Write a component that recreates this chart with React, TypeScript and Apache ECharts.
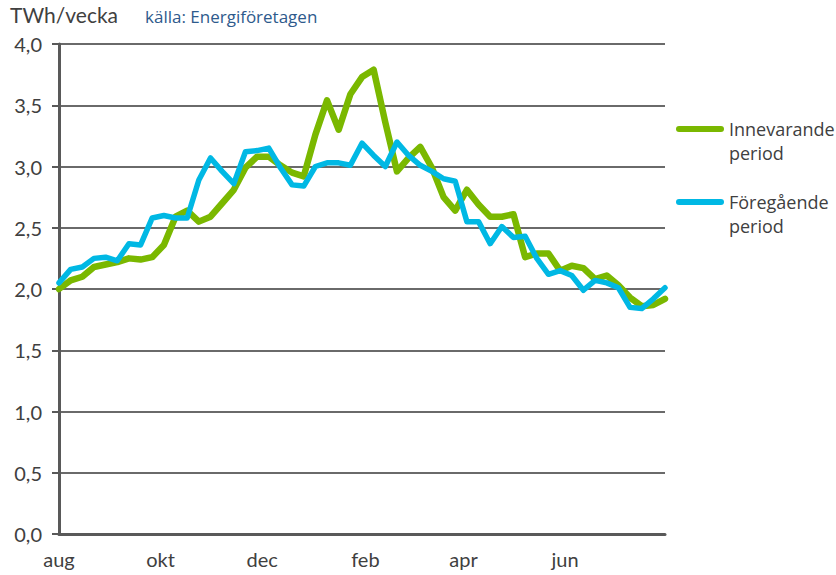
import React, { useEffect, useRef } from "react";
import * as echarts from "echarts";

// week index 0..52 (weekly points from early August)
const weekIndex = [
  0, 1, 2, 3, 4, 5, 6, 7, 8, 9, 10, 11, 12, 13, 14, 15, 16, 17, 18, 19, 20, 21, 22, 23, 24, 25, 26,
  27, 28, 29, 30, 31, 32, 33, 34, 35, 36, 37, 38, 39, 40, 41, 42, 43, 44, 45, 46, 47, 48, 49, 50, 51, 52,
];

const innevarande = [
  2.0, 2.07, 2.1, 2.18, 2.2, 2.22, 2.25, 2.24, 2.26, 2.36, 2.59, 2.64, 2.55, 2.59, 2.7, 2.81, 2.99,
  3.08, 3.08, 3.01, 2.95, 2.92, 3.26, 3.54, 3.3, 3.59, 3.73, 3.79, 3.36, 2.96, 3.07, 3.16, 2.99, 2.75,
  2.64, 2.81, 2.69, 2.59, 2.59, 2.61, 2.26, 2.29, 2.29, 2.15, 2.19, 2.17, 2.08, 2.11, 2.03, 1.93, 1.86,
  1.87, 1.92,
];

const foregaende = [
  2.05, 2.16, 2.18, 2.25, 2.26, 2.23, 2.37, 2.36, 2.58, 2.6, 2.58, 2.58, 2.89, 3.07, 2.96, 2.86, 3.12,
  3.13, 3.15, 2.99, 2.85, 2.84, 3.0, 3.03, 3.03, 3.01, 3.19, 3.09, 3.0, 3.2, 3.09, 3.01, 2.96, 2.9,
  2.88, 2.55, 2.55, 2.37, 2.51, 2.42, 2.43, 2.25, 2.12, 2.15, 2.11, 1.99, 2.07, 2.05, 2.01, 1.85, 1.84,
  1.92, 2.01,
];

const monthLabels = ["aug", "okt", "dec", "feb", "apr", "jun"];
// month starts, in weeks from 1 August
const monthPositions = [0, 8.71, 17.43, 26.29, 34.71, 43.43];

const seriesNames = ["Innevarande period", "Föregående period"];
const seriesColors = ["#7AB800", "#00B8E4"];

const legendIcon = "path://M3,0 L45,0 A3,3 0 0 1 45,6 L3,6 A3,3 0 0 1 3,0 Z";

export default function App() {
  const ref = useRef<HTMLDivElement>(null);
  useEffect(() => {
    if (!ref.current) return;
    const chart = echarts.init(ref.current, undefined, { renderer: "svg" });
    const axisColor = "#595959";
    const labelStyle = { fontFamily: "Lato", fontSize: 20, color: "#404040" };
    const legendText = {
      fontFamily: "Open Sans",
      fontSize: 18,
      color: "#404040",
      lineHeight: 24,
    };
    // an empty first line keeps the icon level with the first text line
    const legendFormatter = (n: string) => "\n" + n.replace(" ", "\n");
    chart.setOption({
      animation: false,
      backgroundColor: "#ffffff",
      title: [
        {
          text: "TWh/vecka",
          left: 10,
          top: 4,
          padding: 0,
          textStyle: { fontFamily: "Lato", fontSize: 21, fontWeight: "normal", color: "#404040" },
        },
        {
          text: "källa: Energiföretagen",
          left: 145,
          top: 8,
          padding: 0,
          textStyle: { fontFamily: "Open Sans", fontSize: 17, fontWeight: "normal", color: "#2E5A8C" },
        },
      ],
      legend: [
        {
          data: [seriesNames[0]],
          left: 676,
          top: 93,
          padding: 0,
          itemWidth: 48,
          itemHeight: 7,
          icon: legendIcon,
          formatter: legendFormatter,
          textStyle: legendText,
        },
        {
          data: [seriesNames[1]],
          left: 676,
          top: 166,
          padding: 0,
          itemWidth: 48,
          itemHeight: 7,
          icon: legendIcon,
          formatter: legendFormatter,
          textStyle: legendText,
        },
      ],
      grid: { left: 59, right: 171, top: 44, bottom: 41, outerBoundsMode: "none" },
      xAxis: {
        type: "value",
        min: 0,
        max: 52,
        axisLine: { show: true, lineStyle: { color: axisColor, width: 3 } },
        axisTick: { show: false },
        splitLine: { show: false },
        axisLabel: {
          ...labelStyle,
          margin: 15,
          customValues: monthPositions,
          formatter: (v: number) => {
            const i = monthPositions.findIndex((p) => Math.abs(p - v) < 1e-6);
            return i >= 0 ? monthLabels[i] : "";
          },
        },
      },
      yAxis: {
        type: "value",
        min: 0,
        max: 4,
        interval: 0.5,
        axisLine: { show: true, lineStyle: { color: axisColor, width: 3 } },
        axisTick: { show: true, length: 7, lineStyle: { color: axisColor, width: 2 } },
        splitLine: { show: true, lineStyle: { color: "#6A6A6A", width: 2 } },
        axisLabel: {
          ...labelStyle,
          margin: 17,
          formatter: (v: number) => v.toFixed(1).replace(".", ","),
        },
      },
      series: [
        {
          name: seriesNames[0],
          type: "line",
          showSymbol: false,
          data: weekIndex.map((w, i) => [w, innevarande[i]]),
          color: seriesColors[0],
          lineStyle: { width: 6.5, color: seriesColors[0], cap: "round", join: "round" },
        },
        {
          name: seriesNames[1],
          type: "line",
          showSymbol: false,
          data: weekIndex.map((w, i) => [w, foregaende[i]]),
          color: seriesColors[1],
          lineStyle: { width: 5.5, color: seriesColors[1], cap: "round", join: "round" },
        },
      ],
    });
    return () => chart.dispose();
  }, []);
  return <div ref={ref} style={{ width: 836, height: 575, position: "absolute", left: 0, top: 0 }} />;
}
